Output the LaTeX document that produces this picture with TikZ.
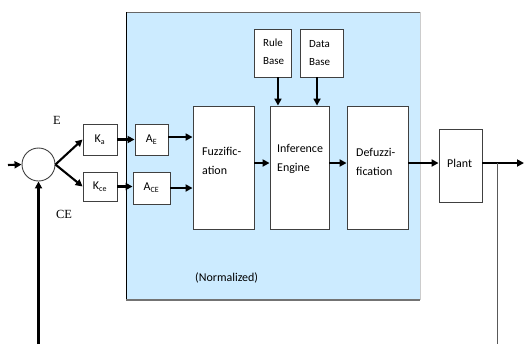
\documentclass[tikz,border=0pt]{standalone}
\usepackage{fontspec}
\setmainfont{Carlito}
\newfontfamily\serifE{Liberation Serif}
\usetikzlibrary{arrows.meta}
\definecolor{panel}{RGB}{204,235,255}
\definecolor{boxline}{RGB}{64,64,64}
\tikzset{
  blk/.style={draw=boxline, line width=0.9pt, fill=white, inner sep=0pt},
  lbl/.style={inner sep=0pt, align=left, font=\fontsize{12}{19}\selectfont},
  smlbl/.style={inner sep=0pt, align=left, font=\fontsize{11}{18}\selectfont},
  gain/.style={blk, font=\fontsize{12}{14}\selectfont},
  arr/.style={line width=2.1pt, -{Triangle[length=7pt,width=7pt]}},
}
\begin{document}
\begin{tikzpicture}[x=1bp,y=-1bp]
\useasboundingbox (0,0) rectangle (524,344);
% panel
\fill[panel] (126,12) rectangle (420,300);
\draw[gray!80!black, line width=0.9pt] (126,12) -- (420,12);
\draw[black, line width=0.9pt] (126,12) -- (126,300);
\draw[gray!90!black, line width=1.4pt] (126,300) -- (420,300);
\draw[gray!40, line width=0.5pt] (420,12) -- (420,300);
% summing junction
\node[draw=boxline, line width=0.9pt, circle, minimum size=33bp, inner sep=0pt] (sum) at (38.5,164.5) {};
% gain boxes
\node[gain, minimum width=34bp, minimum height=31bp] (ka) at (100,139.5) {K\textsubscript{a}};
\node[gain, minimum width=34bp, minimum height=29bp] (kce) at (100,186.5) {K\textsubscript{ce}};
\node[gain, minimum width=33bp, minimum height=31bp] (ae) at (151.5,139.5) {A\textsubscript{E}};
\node[gain, minimum width=37bp, minimum height=32bp] (ace) at (151.5,188) {A\textsubscript{CE}};
% main blocks
\node[blk, minimum width=61bp, minimum height=123bp] (fuzz) at (223.5,167.5) {};
\node[blk, minimum width=59bp, minimum height=123bp] (inf) at (299.5,167.5) {};
\node[blk, minimum width=61bp, minimum height=123bp] (defz) at (377.5,167.5) {};
\node[blk, minimum width=37bp, minimum height=48bp] (rule) at (272.5,53) {};
\node[blk, minimum width=43bp, minimum height=48bp] (data) at (321.5,53) {};
\node[blk, minimum width=43bp, minimum height=73bp] (plant) at (460.5,165.5) {};
% texts
\node[lbl, anchor=west] (fuzzT) at (202,161) {Fuzzific-\\ation};
\node[lbl, anchor=west] (infT) at (277,159) {Inference\\Engine};
\node[lbl, anchor=west] (defzT) at (356,162) {Defuzzi-\\fication};
\node[lbl, anchor=west] (plantT) at (447,163) {Plant};
\node[smlbl, anchor=west] (ruleT) at (263,52) {Rule\\Base};
\node[smlbl, anchor=west] (dataT) at (309,53) {Data\\Base};
\node[lbl, anchor=west] (normT) at (195,278) {(Normalized)};
\node[font=\serifE\fontsize{12.5}{14}\selectfont, inner sep=0pt] (eT) at (57,120) {E};
\node[font=\serifE\fontsize{12.5}{14}\selectfont, inner sep=0pt] (ceT) at (64,214) {CE};
% coordinates
\coordinate (in) at (8,165);
\coordinate (fb) at (38.5,344);
\coordinate (out) at (524,163);
\coordinate (tap) at (497,163);
\coordinate (tapb) at (497,344);
% connectors
\draw[arr] (in) -- (sum.west);
\draw[arr] (fb) -- (sum.south);
\draw[arr] (sum.east) -- (ka.west);
\draw[arr] (sum.east) -- (kce.west);
\draw[arr] (ka.east) -- (ae.west);
\draw[arr] (kce.east) -- (kce.east -| ace.west);
\draw[arr] ([yshift=2.5]ae.east) -- ([yshift=2.5]ae.east -| fuzz.west);
\draw[arr] (ace.east) -- (ace.east -| fuzz.west);
\draw[arr] (fuzz.east |- out) -- (inf.west |- out);
\draw[arr] (inf.east |- out) -- (defz.west |- out);
\draw[arr] (defz.east |- out) -- (plant.west |- out);
\draw[arr] (plant.east |- out) -- (out);
\draw[arr] ([xshift=5.5]rule.south) -- ([xshift=5.5]rule.south |- inf.north);
\draw[arr] ([xshift=-4.5]data.south) -- ([xshift=-4.5]data.south |- inf.north);
\draw[gray!70!black, line width=0.9pt] (tap) -- (tapb);
\end{tikzpicture}
\end{document}
